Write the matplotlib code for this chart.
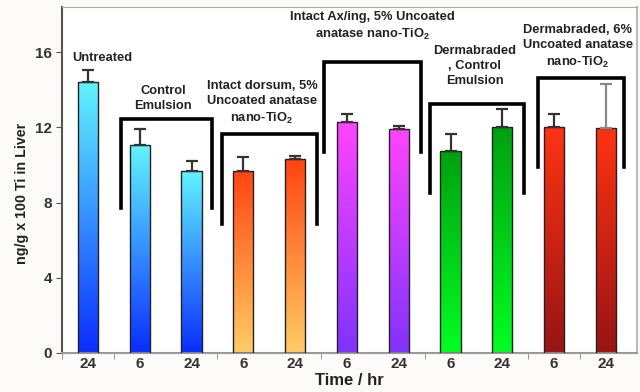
import matplotlib.pyplot as plt
import matplotlib.colors as mcolors
import numpy as np

# data
times = ['24', '6', '24', '6', '24', '6', '24', '6', '24', '6', '24']
values = [14.4, 11.05, 9.7, 9.7, 10.3, 12.3, 11.9, 10.75, 12.0, 12.0, 11.95]
errors = [0.65, 0.85, 0.5, 0.7, 0.2, 0.4, 0.17, 0.9, 1.0, 0.7, 2.35]
# gradient (top colour, bottom colour) for every bar
grad_top = ['#62f4ff', '#62f4ff', '#62f4ff', '#ff4412', '#ff4412', '#ff44ff', '#ff44ff',
            '#00a010', '#00a010', '#ff3312', '#ff3312']
grad_bottom = ['#0a2cff', '#0a2cff', '#0a2cff', '#ffcc66', '#ffcc66', '#8033ff', '#8033ff',
               '#00ff22', '#00ff22', '#981414', '#981414']
err_colors = ['#333333'] * 10 + ['#888888']

group_labels = ['Untreated', 'Control\nEmulsion',
                'Intact dorsum, 5%\nUncoated anatase\nnano-TiO$_2$',
                'Intact Ax/ing, 5% Uncoated\nanatase nano-TiO$_2$',
                'Dermabraded\n, Control\nEmulsion',
                'Dermabraded, 6%\nUncoated anatase\nnano-TiO$_2$']
label_x = [0.27, 1.45, 3.36, 5.5, 7.47, 9.46]
label_y = [16.0, 14.25, 14.5, 18.2, 16.4, 17.5]
# brackets: x left, x right, y top, y bottom
brackets = [(0.64, 2.39, 12.45, 7.7), (2.59, 4.42, 11.65, 6.86), (4.56, 6.43, 15.48, 10.7),
            (6.6, 8.42, 13.24, 8.5), (8.69, 10.35, 14.63, 9.9)]

plt.rcParams['font.family'] = ['Liberation Sans', 'DejaVu Sans']
plt.rcParams['mathtext.fontset'] = 'custom'
plt.rcParams['mathtext.rm'] = 'Liberation Sans:bold'
plt.rcParams['mathtext.it'] = 'Liberation Sans:bold'
plt.rcParams['mathtext.bf'] = 'Liberation Sans:bold'

fig = plt.figure(figsize=(6.4, 3.92), dpi=100)
fig.patch.set_facecolor('#fdfbfa')
ax = fig.add_axes([62 / 640, 1 - 353 / 392, 575 / 640, 346 / 392])
ax.set_facecolor('white')

x = np.arange(len(values))
width = 0.39
bars = ax.bar(x, values, width, facecolor='none', edgecolor='#222222', linewidth=1.0, zorder=3)
for i, b in enumerate(bars):
    cmap = mcolors.LinearSegmentedColormap.from_list('g', [grad_bottom[i], grad_top[i]])
    grad = np.linspace(0, 1, 256).reshape(-1, 1)
    im = ax.imshow(grad, cmap=cmap, origin='lower', aspect='auto',
                   extent=(x[i] - width / 2, x[i] + width / 2, 0, values[i]), zorder=2)
    im.set_clip_path(b)
    ax.errorbar(x[i], values[i], yerr=[[0], [errors[i]]], fmt='none', ecolor=err_colors[i],
                elinewidth=1.6, capsize=4, capthick=1.6, zorder=4)

for xl, xr, yt, yb in brackets:
    ax.plot([xl, xl, xr, xr], [yb, yt, yt, yb], color='black', lw=2.6,
            solid_joinstyle='miter', zorder=5)

for lab, lx, ly in zip(group_labels, label_x, label_y):
    ax.text(lx, ly, lab, ha='center', va='top', fontsize=9.3, fontweight='bold',
            color='#222222', linespacing=1.35, zorder=6)

ax.set_xlim(-0.5, 10.6)
ax.set_ylim(0, 18.4)
ax.set_yticks([0, 4, 8, 12, 16])
ax.set_xticks(x)
ax.set_xticklabels(times)
ax.set_xticks([-0.5, 0.5, 2.5, 4.5, 6.5, 8.5, 9.5], minor=True)
ax.tick_params(axis='x', which='major', length=0, pad=3, labelsize=11)
ax.tick_params(axis='x', which='minor', length=4, color='#888888', direction='out')
ax.tick_params(axis='y', length=4, color='#555555', labelsize=11, pad=3)
for t in ax.get_xticklabels() + ax.get_yticklabels():
    t.set_fontweight('bold')
    t.set_color('#333333')

ax.spines['left'].set_color('#555555')
ax.spines['left'].set_linewidth(1.5)
ax.spines['bottom'].set_color('#999999')
ax.spines['bottom'].set_linewidth(1.5)
ax.spines['top'].set_color('#aaaaaa')
ax.spines['right'].set_color('#bbbbbb')
ax.spines['right'].set_linewidth(1.5)

ax.set_ylabel('ng/g x 100 Ti in Liver', fontsize=10.3, fontweight='bold', color='#222222')
ax.yaxis.set_label_coords(-0.057, 0.462)
ax.set_xlabel('Time / hr', fontsize=12, fontweight='bold', color='#222222', labelpad=1)

fig.savefig('out.png', dpi=100, facecolor=fig.get_facecolor())
